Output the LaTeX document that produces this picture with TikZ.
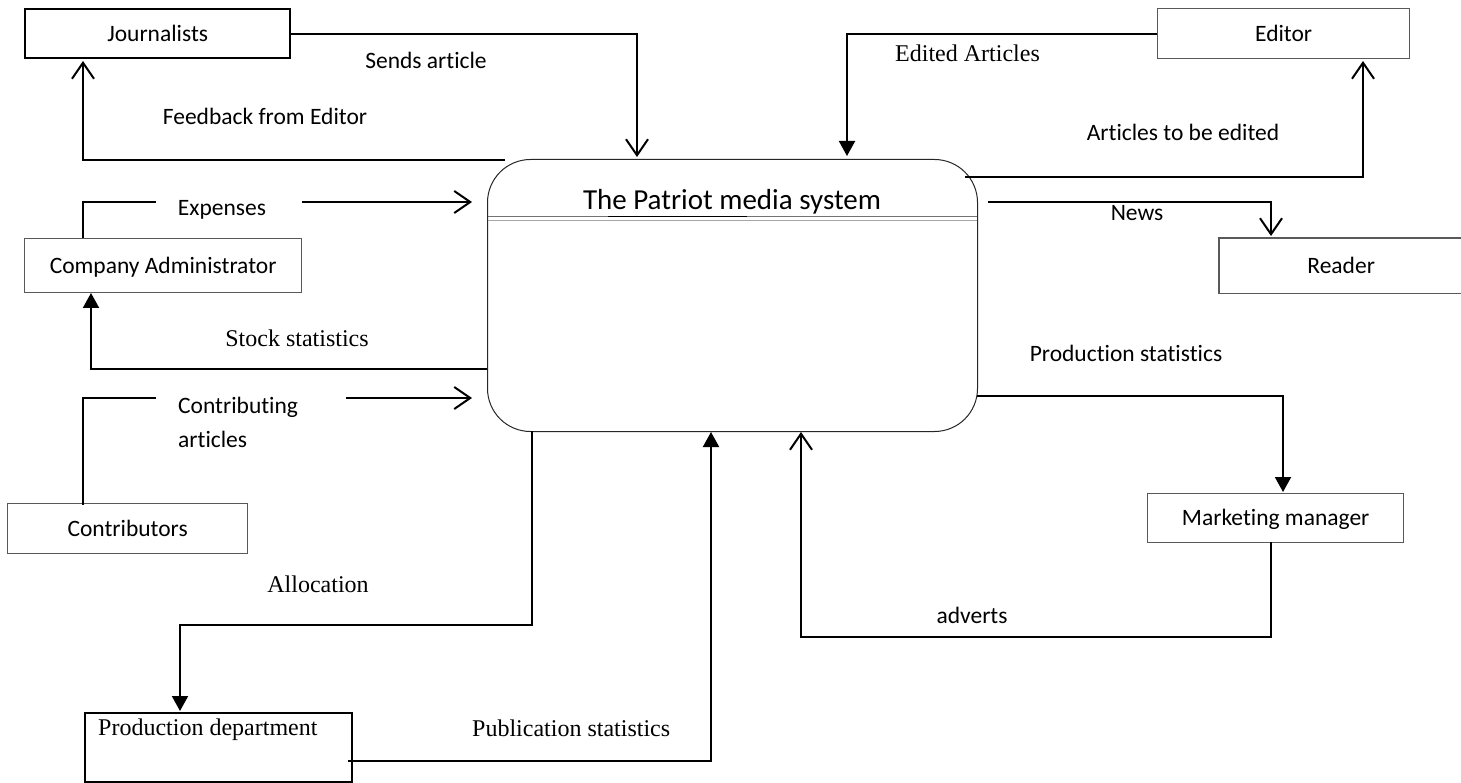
\documentclass[tikz,border=0pt]{standalone}
\usepackage{fontspec}
\setmainfont[RawFeature={-liga;-calt;-clig}]{Carlito}
\newfontfamily\tnr{Liberation Serif}
\usetikzlibrary{arrows.meta}
\begin{document}
\begin{tikzpicture}[x=1pt,y=-1pt,
  ent/.style={draw=black!65, line width=1.3pt, inner sep=0, anchor=north west,
    text height=16pt, text depth=1pt, font=\fontsize{23.5}{28}\selectfont},
  entbold/.style={draw=black, line width=2.4pt, inner sep=0, anchor=north west},
  flow/.style={draw=black, line width=2pt},
  openhead/.style={-{Straight Barb[length=16pt,width=22pt]}},
  solidhead/.style={-{Triangle[length=15pt,width=16pt]}},
  lab/.style={font=\fontsize{23.5}{28}\selectfont, inner sep=0},
  tlab/.style={font=\tnr\fontsize{24}{28}\selectfont, inner sep=0},
]
\fill[white] (0,0) rectangle (1461,783);
\useasboundingbox (0,0) rectangle (1461,783);

% ---- external entities ----
\node[entbold, minimum width=265, minimum height=49,
  text height=16pt, text depth=1pt, font=\fontsize{23.5}{28}\selectfont] (jour) at (24,8) {Journalists};
\node[ent, minimum width=252, minimum height=50] (editor) at (1157,8) {Editor};
\node[ent, draw=none, minimum width=243, minimum height=54] (reader) at (1219,238) {Reader};
\draw[black!65, line width=1.3pt] (reader.north east) -- (reader.north west)
  -- (reader.south west) -- (reader.south east);
\node[ent, minimum width=277, minimum height=54] (admin) at (24,238) {Company Administrator};
\node[ent, minimum width=240, minimum height=50] (contrib) at (7,503) {Contributors};
\node[ent, minimum width=256, minimum height=49] (mkt) at (1147,493) {Marketing manager};
\node[entbold, minimum width=267, minimum height=69] (prod) at (84,712) {};
\node[tlab, anchor=base west] (prodtxt) at (98,735) {Production department};

% ---- central process ----
\node[draw=black!85, line width=1pt, rounded corners=43pt, inner sep=0,
  minimum width=490, minimum height=272, anchor=north west] (sys) at (487,159) {};
\node[font=\fontsize{29}{34}\selectfont, inner sep=0, anchor=base] (title) at (732,210) {The Patriot media system};
\draw[black!55, line width=0.8pt] (487.5,216) -- (976.5,216);
\draw[black!35, line width=0.8pt] (487.5,220) -- (976.5,220);
\draw[black, line width=1.3pt] (608,216.5) -- (747,216.5);

% ---- connector end points ----
\coordinate (sendsEnd) at (637,157);
\coordinate (fbStart) at (505,160);
\coordinate (fbEnd) at (83,61);
\coordinate (editedEnd) at (847,156);
\coordinate (toEditStart) at (965,177);
\coordinate (toEditEnd) at (1363,61);
\coordinate (newsStart) at (988,202);
\coordinate (newsEnd) at (1271,236);
\coordinate (expA) at (83,238);
\coordinate (expB) at (156,202);
\coordinate (expC) at (302,202);
\coordinate (expD) at (472,202);
\coordinate (stockStart) at (487,369);
\coordinate (stockEnd) at (91,293);
\coordinate (conA) at (83,505);
\coordinate (conB) at (156,398);
\coordinate (conC) at (346,398);
\coordinate (conD) at (472,398);
\coordinate (allocStart) at (532,431);
\coordinate (allocBend) at (532,625);
\coordinate (allocEnd) at (180,711);
\coordinate (pubStart) at (348,761);
\coordinate (pubEnd) at (711,432);
\coordinate (prodStart) at (977,396);
\coordinate (prodEnd) at (1283,492);
\coordinate (advStart) at (1271,542);
\coordinate (advBend) at (1271,637);
\coordinate (advEnd) at (801,432);

% ---- data flows ----
\draw[flow, openhead] (jour.east) -| (sendsEnd);
\draw[flow, openhead] (fbStart) -| (fbEnd);
\draw[flow, solidhead] (editor.west) -| (editedEnd);
\draw[flow, openhead] (toEditStart) -| (toEditEnd);
\draw[flow, openhead] (newsStart) -| (newsEnd);
\draw[flow] (expA) |- (expB);
\draw[flow, openhead] (expC) -- (expD);
\draw[flow, solidhead] (stockStart) -| (stockEnd);
\draw[flow] (conA) |- (conB);
\draw[flow, openhead] (conC) -- (conD);
\draw[flow, solidhead] (allocStart) -- (allocBend) -| (allocEnd);
\draw[flow, solidhead] (pubStart) -| (pubEnd);
\draw[flow, solidhead] (prodStart) -| (prodEnd);
\draw[flow, openhead] (advStart) -- (advBend) -| (advEnd);

% ---- flow labels ----
\node[lab, anchor=base] (lSends) at (426,69) {Sends article};
\node[lab, anchor=base] (lFeed) at (265,125) {Feedback from Editor};
\node[tlab, anchor=base east] (lEdited) at (1040,62) {Edited Articles};
\node[lab, anchor=base] (lToEdit) at (1183,141) {Articles to be edited};
\node[lab, anchor=base] (lNews) at (1137,221) {News};
\node[lab, anchor=base] (lExp) at (222,216) {Expenses};
\node[tlab, anchor=base] (lStock) at (297,347) {Stock statistics};
\node[lab, anchor=base west] (lContrib) at (178,413) {Contributing};
\node[lab, anchor=base west] (lArticles) at (178,447) {articles};
\node[tlab, anchor=base] (lAlloc) at (318,592) {Allocation};
\node[tlab, anchor=base west] (lPub) at (472,736) {Publication statistics};
\node[lab, anchor=base] (lProdStat) at (1126,361) {Production statistics};
\node[lab, anchor=base] (lAdv) at (972,623) {adverts};
\end{tikzpicture}
\end{document}
